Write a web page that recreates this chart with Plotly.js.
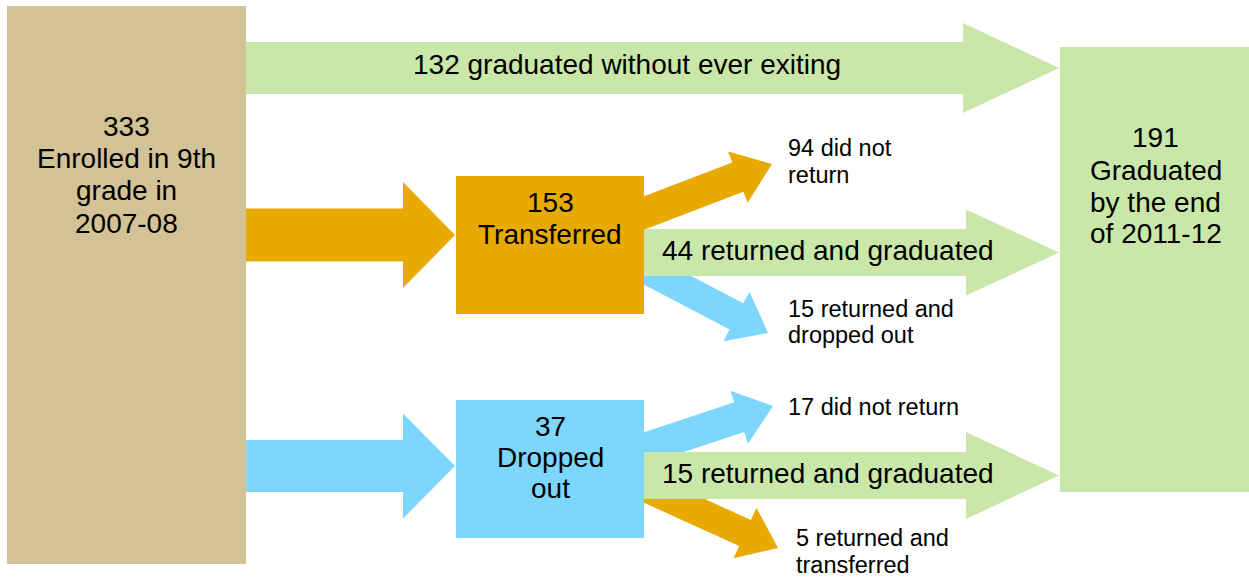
<!DOCTYPE html>
<html>
<head>
<meta charset="utf-8">
<script src="https://cdn.plot.ly/plotly-3.0.1.min.js"></script>
<style>html,body{margin:0;padding:0;background:#fff;}#chart{width:1249px;height:577px;}</style>
</head>
<body>
<div id="chart"></div>
<script>
// ---- data ----
const nodeValues = [333, 153, 37, 191];
const nodeText = [
  ["Enrolled in 9th", "grade in", "2007-08"],
  ["Transferred"],
  ["Dropped", "out"],
  ["Graduated", "by the end", "of 2011-12"]
];
const flowValues = [132, 94, 44, 15, 17, 15, 5];
const flowText = [
  ["graduated without ever exiting"],
  ["did not", "return"],
  ["returned and graduated"],
  ["returned and", "dropped out"],
  ["did not return"],
  ["returned and graduated"],
  ["returned and", "transferred"]
];

// ---- styles / geometry (layout only) ----
const C = {tan: "#D3C295", orange: "#E8AA00", green: "#C9E7A8", blue: "#7DD6FE"};
const FONT = "Liberation Sans, Arial, sans-serif";
const BIG = 28, SMALL = 23.5;

const nodeGeom = [
  {x0: 7, x1: 246, y0: 6, y1: 564, color: C.tan, cx: 126.5, baselines: [136, 168, 200, 233]},
  {x0: 456, x1: 644, y0: 176, y1: 314, color: C.orange, cx: 550, baselines: [212, 244]},
  {x0: 456, x1: 644, y0: 400, y1: 538, color: C.blue, cx: 550, baselines: [436, 467, 498]},
  {x0: 1060, x1: 1249, y0: 47, y1: 492, color: C.green, cx: 1155.5, baselines: [147, 180, 212, 243]}
];

// flows: start, tip, shaft half width, head half width, head length
const flowGeom = [
  {s: [240, 68], t: [1059, 68], sw: 26, hw: 45, hl: 96, color: C.green, label: {x: 626.5, anchor: "center", size: BIG, baselines: [74]}},
  {s: [600, 229.8], t: [772, 164], sw: 15.7, hw: 27.4, hl: 36.6, color: C.orange, label: {x: 788, anchor: "left", size: SMALL, baselines: [156, 183]}},
  {s: [640, 252.5], t: [1059, 252.5], sw: 23.5, hw: 43, hl: 93, color: C.green, label: {x: 828, anchor: "center", size: BIG, baselines: [260]}},
  {s: [600, 245], t: [768, 333], sw: 14.8, hw: 28, hl: 35.6, color: C.blue, label: {x: 788, anchor: "left", size: SMALL, baselines: [317, 343]}},
  {s: [600, 463.4], t: [773, 406], sw: 15.7, hw: 28, hl: 35.6, color: C.blue, label: {x: 788, anchor: "left", size: SMALL, baselines: [415]}},
  {s: [640, 475.5], t: [1059, 475.5], sw: 23.5, hw: 43.5, hl: 93, color: C.green, label: {x: 828, anchor: "center", size: BIG, baselines: [483]}},
  {s: [600, 467], t: [778, 548], sw: 14.3, hw: 27.7, hl: 36.2, color: C.orange, label: {x: 796, anchor: "left", size: SMALL, baselines: [546, 573]}}
];
// connector arrows from the enrolled box into the two middle boxes
const connectorGeom = [
  {s: [240, 235], t: [455, 235], sw: 26.5, hw: 53, hl: 52, color: C.orange},
  {s: [240, 466], t: [455, 466], sw: 26, hw: 52.5, hl: 52, color: C.blue}
];
// drawing order: diagonal flows under the green arrows
const flowOrder = [1, 3, 4, 6, 0, 2, 5];

function arrowPoly(g) {
  const dx = g.t[0] - g.s[0], dy = g.t[1] - g.s[1];
  const L = Math.hypot(dx, dy), ux = dx / L, uy = dy / L, nx = -uy, ny = ux;
  const bx = g.t[0] - ux * g.hl, by = g.t[1] - uy * g.hl;
  const pts = [
    [g.s[0] + nx * g.sw, g.s[1] + ny * g.sw],
    [bx + nx * g.sw, by + ny * g.sw],
    [bx + nx * g.hw, by + ny * g.hw],
    [g.t[0], g.t[1]],
    [bx - nx * g.hw, by - ny * g.hw],
    [bx - nx * g.sw, by - ny * g.sw],
    [g.s[0] - nx * g.sw, g.s[1] - ny * g.sw]
  ];
  pts.push(pts[0]);
  return pts;
}
function polyTrace(pts, color) {
  return {x: pts.map(p => p[0]), y: pts.map(p => p[1]), type: "scatter", mode: "none",
    fill: "toself", fillcolor: color, hoverinfo: "skip", showlegend: false};
}
function rectPts(n) {
  return [[n.x0, n.y0], [n.x1, n.y0], [n.x1, n.y1], [n.x0, n.y1], [n.x0, n.y0]];
}

const traces = [];
flowOrder.forEach(i => traces.push(polyTrace(arrowPoly(flowGeom[i]), flowGeom[i].color)));
connectorGeom.forEach(g => traces.push(polyTrace(arrowPoly(g), g.color)));
nodeGeom.forEach(n => traces.push(polyTrace(rectPts(n), n.color)));

const annotations = [];
function addLine(text, x, baseline, size, anchor) {
  annotations.push({text: text, x: x, y: baseline - 0.3465 * size, xref: "x", yref: "y",
    xanchor: anchor, yanchor: "middle", showarrow: false, borderpad: 0, borderwidth: 0,
    font: {family: FONT, size: size, color: "#000"}});
}
nodeGeom.forEach((n, i) => {
  const lines = [String(nodeValues[i])].concat(nodeText[i]);
  lines.forEach((ln, k) => addLine(ln, n.cx, n.baselines[k], BIG, "center"));
});
flowGeom.forEach((g, i) => {
  const lines = flowText[i].slice();
  lines[0] = flowValues[i] + " " + lines[0];
  lines.forEach((ln, k) => addLine(ln, g.label.x, g.label.baselines[k], g.label.size, g.label.anchor));
});

const layout = {
  width: 1249, height: 577,
  margin: {l: 0, r: 0, t: 0, b: 0, pad: 0},
  paper_bgcolor: "#fff", plot_bgcolor: "#fff",
  xaxis: {range: [0, 1249], visible: false, fixedrange: true},
  yaxis: {range: [577, 0], visible: false, fixedrange: true},
  showlegend: false,
  annotations: annotations
};
Plotly.newPlot("chart", traces, layout, {displayModeBar: false, staticPlot: true});
</script>
</body>
</html>
